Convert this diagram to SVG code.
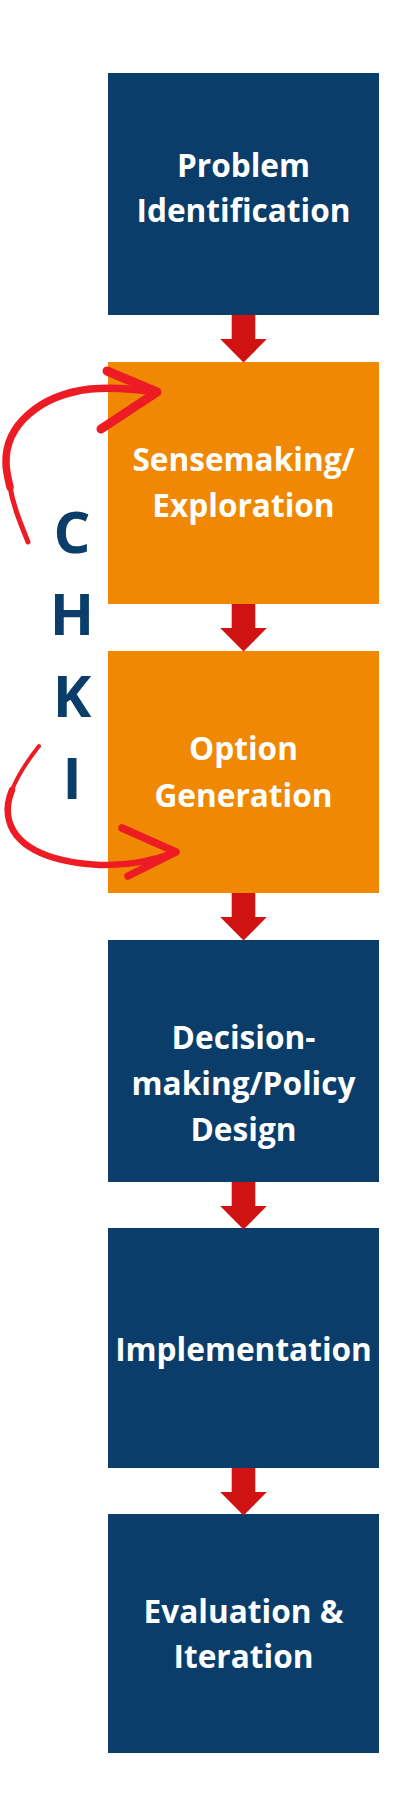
<svg xmlns="http://www.w3.org/2000/svg" width="400" height="1800" viewBox="0 0 400 1800">
<style>
.blue{fill:#0a3d69}
.orange{fill:#f08803}
.lbl{font-family:"Open Sans","Liberation Sans",sans-serif;font-weight:700;font-size:31.6px;fill:#ffffff;text-anchor:middle}
.side{font-family:"Open Sans","Liberation Sans",sans-serif;font-weight:700;font-size:58px;fill:#0a3d69;text-anchor:middle}
.flow{fill:#d01212}
.curve{fill:none;stroke:#ed1c24;stroke-linecap:round;stroke-linejoin:round}
</style>
<defs>
<path id="dn" d="M-11.8,0 H11.8 V24 H23.3 L0,47.5 L-23.3,24 H-11.8 Z"/>
</defs>
<rect width="400" height="1800" fill="#ffffff"/>
<g id="n1"><rect class="blue" x="108" y="73" width="271" height="242"/>
<text class="lbl" x="243.5" y="177">Problem</text><text class="lbl" x="243.5" y="222">Identification</text></g>
<g id="n2"><rect class="orange" x="108" y="362" width="271" height="242"/>
<text class="lbl" x="243.5" y="471">Sensemaking/</text><text class="lbl" x="243.5" y="517">Exploration</text></g>
<g id="n3"><rect class="orange" x="108" y="651" width="271" height="242"/>
<text class="lbl" x="243.5" y="760">Option</text><text class="lbl" x="243.5" y="807">Generation</text></g>
<g id="n4"><rect class="blue" x="108" y="940" width="271" height="242"/>
<text class="lbl" x="243.5" y="1049">Decision-</text><text class="lbl" x="243.5" y="1095">making/Policy</text><text class="lbl" x="243.5" y="1141">Design</text></g>
<g id="n5"><rect class="blue" x="108" y="1228" width="271" height="240"/>
<text class="lbl" x="243.5" y="1361">Implementation</text></g>
<g id="n6"><rect class="blue" x="108" y="1514" width="271" height="239"/>
<text class="lbl" x="243.5" y="1623">Evaluation &amp;</text><text class="lbl" x="243.5" y="1668">Iteration</text></g>
<g id="chki">
<text class="side" x="72" y="553">C</text>
<text class="side" x="72" y="635">H</text>
<text class="side" x="72" y="717">K</text>
<text class="side" x="72" y="799">I</text>
</g>
<g id="connectors">
<use href="#dn" class="flow" x="243.5" y="315"/>
<use href="#dn" class="flow" x="243.5" y="604"/>
<use href="#dn" class="flow" x="243.5" y="893"/>
<use href="#dn" class="flow" x="243.5" y="1182"/>
<use href="#dn" class="flow" x="243.5" y="1468"/>
<path class="curve" stroke-width="5" d="M28,542 C20,522 13,505 10,487"/>
<path class="curve" stroke-width="7.5" d="M10,487 C7,475 6,470 6,463 C5,425 40,395 90,389 C115,387 135,389 155,392"/>
<path class="curve" stroke-width="9" d="M107,371 L157,392 L101,429"/>
<path class="curve" stroke-width="4" d="M39,746 C28,760 18,775 12,790"/>
<path class="curve" stroke-width="6.5" d="M12,790 C8,800 7,808 8,815 C12,845 45,862 100,865 C130,866 155,860 176,852"/>
<path class="curve" stroke-width="7.5" d="M122,828 L176,852 L128,876"/>
</g>
</svg>
